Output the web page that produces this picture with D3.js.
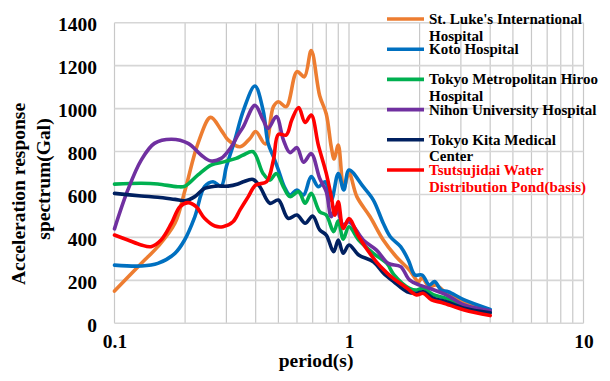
<!DOCTYPE html>
<html>
<head>
<meta charset="utf-8">
<script src="https://cdn.jsdelivr.net/npm/d3@7/dist/d3.min.js"></script>
<style>
  body { margin: 0; background: #fff; }
  text { font-family: "Liberation Serif", "Times New Roman", serif; font-weight: bold; }
</style>
</head>
<body>
<div id="chart"></div>
<script>
// values (period in s, spectrum in Gal)
const stLukeT = [0.1, 0.13, 0.153, 0.181, 0.2, 0.227, 0.257, 0.285, 0.305, 0.343, 0.378, 0.4, 0.44, 0.476, 0.5, 0.54, 0.6, 0.645, 0.69, 0.75, 0.8, 0.84, 0.865, 0.9, 0.95, 1.0, 1.08, 1.23, 1.4, 1.59, 1.81, 1.98, 2.05, 2.2, 2.35, 2.6, 3.1, 4.0];
const stLukeV = [150, 279, 357, 466, 621, 838, 959, 900, 854, 822, 861, 893, 835, 1009, 1032, 1009, 1172, 1148, 1270, 1060, 975, 822, 765, 830, 630, 700, 590, 496, 388, 310, 248, 194, 212, 170, 178, 140, 100, 58];

const kotoT = [0.1, 0.13, 0.153, 0.181, 0.199, 0.22, 0.242, 0.263, 0.285, 0.3, 0.326, 0.355, 0.397, 0.43, 0.452, 0.476, 0.5, 0.53, 0.56, 0.6, 0.64, 0.69, 0.74, 0.79, 0.84, 0.9, 0.95, 1.0, 1.15, 1.27, 1.4, 1.5, 1.66, 1.79, 1.91, 2.05, 2.2, 2.32, 2.47, 2.65, 3.1, 4.0];
const kotoV = [271, 267, 279, 326, 388, 496, 636, 659, 640, 730, 854, 993, 1105, 993, 838, 776, 714, 636, 598, 621, 598, 683, 636, 659, 574, 698, 621, 714, 636, 574, 466, 403, 357, 295, 225, 225, 178, 194, 155, 147, 109, 65];

const hirooT = [0.1, 0.13, 0.153, 0.186, 0.2, 0.227, 0.258, 0.295, 0.33, 0.354, 0.39, 0.43, 0.46, 0.49, 0.525, 0.56, 0.61, 0.65, 0.69, 0.75, 0.8, 0.86, 0.9, 0.945, 1.0, 1.1, 1.27, 1.45, 1.55, 1.81, 1.94, 2.07, 2.3, 2.6, 3.1, 4.0];
const hirooV = [648, 652, 649, 636, 639, 691, 737, 753, 768, 784, 799, 698, 667, 698, 636, 590, 613, 559, 605, 520, 504, 427, 477, 392, 450, 388, 326, 279, 228, 163, 155, 163, 132, 116, 77, 52];

const nihonT = [0.1, 0.114, 0.13, 0.148, 0.175, 0.206, 0.234, 0.258, 0.285, 0.315, 0.336, 0.354, 0.397, 0.43, 0.452, 0.49, 0.525, 0.56, 0.6, 0.64, 0.69, 0.75, 0.8, 0.84, 0.88, 0.945, 1.0, 1.15, 1.31, 1.47, 1.66, 1.81, 2.0, 2.2, 2.6, 3.1, 4.0];
const nihonV = [440, 621, 760, 838, 857, 838, 784, 756, 768, 822, 877, 915, 1015, 947, 908, 963, 854, 795, 818, 750, 790, 675, 613, 496, 543, 458, 473, 388, 341, 279, 264, 202, 178, 163, 132, 85, 58];

const kitaT = [0.1, 0.13, 0.153, 0.181, 0.2, 0.22, 0.242, 0.27, 0.305, 0.336, 0.354, 0.39, 0.417, 0.46, 0.5, 0.55, 0.6, 0.65, 0.7, 0.75, 0.8, 0.86, 0.9, 0.945, 1.0, 1.1, 1.27, 1.4, 1.55, 1.77, 1.94, 2.07, 2.3, 2.6, 3.1, 4.0];
const kitaV = [605, 593, 587, 577, 571, 590, 628, 639, 639, 649, 659, 670, 636, 559, 574, 489, 504, 466, 500, 435, 411, 333, 388, 326, 365, 318, 287, 235, 194, 147, 140, 147, 116, 101, 70, 49];

const tsutsuT = [0.1, 0.114, 0.13, 0.143, 0.158, 0.175, 0.19, 0.206, 0.223, 0.242, 0.268, 0.29, 0.32, 0.343, 0.372, 0.4, 0.445, 0.476, 0.5, 0.54, 0.57, 0.61, 0.65, 0.69, 0.74, 0.8, 0.84, 0.87, 0.9, 0.945, 1.0, 1.1, 1.3, 1.45, 1.54, 1.77, 1.94, 2.07, 2.25, 2.5, 3.1, 4.0];
const tsutsuV = [411, 388, 365, 357, 388, 466, 543, 562, 543, 489, 453, 450, 473, 528, 590, 644, 659, 760, 880, 877, 947, 1005, 935, 970, 830, 698, 590, 504, 566, 442, 488, 403, 290, 235, 210, 163, 132, 140, 109, 96, 62, 36];

const seriesNames = [
  ["St. Luke's International", "Hospital"],
  ["Koto Hospital"],
  ["Tokyo Metropolitan Hiroo", "Hospital"],
  ["Nihon University Hospital"],
  ["Tokyo Kita Medical", "Center"],
  ["Tsutsujidai Water", "Distribution Pond(basis)"]
];
const seriesColors = ["#ED7D31", "#0070C0", "#00B050", "#7030A0", "#002060", "#FF0000"];
const seriesT = [stLukeT, kotoT, hirooT, nihonT, kitaT, tsutsuT];
const seriesV = [stLukeV, kotoV, hirooV, nihonV, kitaV, tsutsuV];

const yTicks = [0, 200, 400, 600, 800, 1000, 1200, 1400];
const xLabels = [0.1, 1, 10];

const width = 610, height = 381;

const svg = d3.select("#chart")
  .append("svg")
    .attr("width", width)
    .attr("height", height);

svg.append("rect").attr("width", width).attr("height", height).attr("fill", "#fff");

const x = d3.scaleLog().domain([0.1, 10]).range([114.5, 583.5]);
const y = d3.scaleLinear().domain([0, 1400]).range([323.3, 22.7]);

// grid
svg.append("g")
  .selectAll("line")
  .data(x.ticks())
  .join("line")
    .attr("x1", d => x(d)).attr("x2", d => x(d))
    .attr("y1", y(0)).attr("y2", y(1400))
    .attr("stroke", "#c8c8c8")
    .attr("stroke-width", 1.2);

svg.append("g")
  .selectAll("line")
  .data(yTicks)
  .join("line")
    .attr("x1", x(0.1)).attr("x2", x(10))
    .attr("y1", d => y(d)).attr("y2", d => y(d))
    .attr("stroke", "#d6d6d6")
    .attr("stroke-width", 1.6);

// axes (labels only)
const yAxis = svg.append("g")
  .attr("transform", `translate(${x(0.1)},0)`)
  .call(d3.axisLeft(y).tickValues(yTicks).tickFormat(d3.format("d")).tickSize(0).tickPadding(17.5));
yAxis.select(".domain").remove();
yAxis.selectAll("text")
  .attr("dy", "0.41em")
  .style("font-size", "19.5px")
  .attr("fill", "#000");

const xAxis = svg.append("g")
  .attr("transform", `translate(0,${y(0)})`)
  .call(d3.axisBottom(x).tickValues(xLabels).tickFormat(d3.format("")).tickSize(0));
xAxis.select(".domain").remove();
xAxis.selectAll("text")
  .attr("y", 25.2)
  .attr("dy", 0)
  .style("font-size", "19.5px")
  .attr("fill", "#000");

// axis titles
svg.append("text")
  .attr("x", 316).attr("y", 366.5)
  .attr("text-anchor", "middle")
  .style("font-size", "19.5px")
  .text("period(s)");

svg.append("text")
  .attr("transform", "translate(25,194) rotate(-90)")
  .attr("text-anchor", "middle")
  .style("font-size", "19.5px")
  .text("Acceleration response");
svg.append("text")
  .attr("transform", "translate(50,179) rotate(-90)")
  .attr("text-anchor", "middle")
  .style("font-size", "19.5px")
  .text("spectrum(Gal)");

// curves
const line = d3.line()
  .x(d => x(d[0]))
  .y(d => y(d[1]))
  .curve(d3.curveCatmullRom.alpha(0.5));

seriesT.forEach((ts, i) => {
  const pts = ts.map((t, j) => [t, seriesV[i][j]]);
  svg.append("path")
    .attr("d", line(pts))
    .attr("fill", "none")
    .attr("stroke", seriesColors[i])
    .attr("stroke-width", 3.6)
    .attr("stroke-linejoin", "round")
    .attr("stroke-linecap", "round");
});

// legend
const legend = svg.append("g");
seriesNames.forEach((name, i) => {
  const ly = 19 + i * 30.2;
  legend.append("line")
    .attr("x1", 387).attr("x2", 424)
    .attr("y1", ly).attr("y2", ly)
    .attr("stroke", seriesColors[i])
    .attr("stroke-width", 3.6);
  const t = legend.append("text")
    .attr("x", 429).attr("y", ly + 5)
    .style("font-size", "15px")
    .attr("fill", i === 5 ? "#FF0000" : "#000");
  name.forEach((s, k) => {
    t.append("tspan").attr("x", 429).attr("dy", k === 0 ? 0 : 16.5).text(s);
  });
});
</script>
</body>
</html>
